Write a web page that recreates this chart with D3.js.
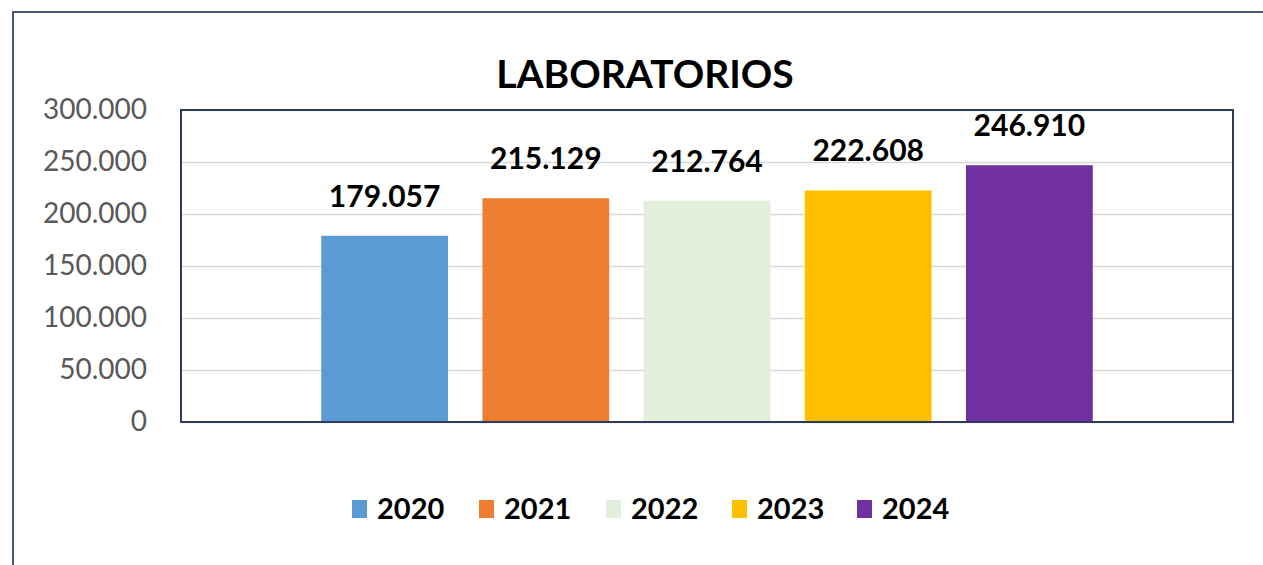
<!DOCTYPE html>
<html>
<head>
<meta charset="utf-8">
<script src="https://cdn.jsdelivr.net/npm/d3@7"></script>
<style>
  body { margin: 0; background: #ffffff; }
  svg { display: block; font-family: Lato, "Open Sans", sans-serif; }
</style>
</head>
<body>
<script>
// Datos
var years = ["2020", "2021", "2022", "2023", "2024"];
var values = [179057, 215129, 212764, 222608, 246910];
var colors = ["#5B9BD5", "#ED7D31", "#E2EFDA", "#FFC000", "#7030A0"];
var yTicks = [0, 50000, 100000, 150000, 200000, 250000, 300000];
var title = "LABORATORIOS";

var width = 1263, height = 565;
var plot = {left: 181, top: 110, right: 1233, bottom: 422};

var svg = d3.select("body").append("svg")
    .attr("width", width)
    .attr("height", height);

// Marco exterior
svg.append("rect")
    .attr("x", 13).attr("y", 12)
    .attr("width", width).attr("height", height)
    .attr("fill", "#ffffff")
    .attr("stroke", "#4A5878")
    .attr("stroke-width", 2);

var es = d3.formatLocale({decimal: ",", thousands: ".", grouping: [3], currency: ["", ""]});
var fmt = es.format(",d");

// Escalas
var y = d3.scaleLinear()
    .domain([0, 300000])
    .range([plot.bottom, plot.top]);

var x = d3.scaleBand()
    .domain(years)
    .range([plot.left, plot.right])
    .paddingInner(0.2136)
    .paddingOuter(0.87);

// Líneas de cuadrícula
svg.append("g")
    .attr("transform", "translate(" + plot.left + ",0)")
    .call(d3.axisLeft(y).tickValues(yTicks).tickSize(-(plot.right - plot.left)).tickFormat(""))
    .call(g => g.select(".domain").remove())
    .call(g => g.selectAll("line").attr("stroke", "#D9D9D9").attr("stroke-width", 1.5));

// Eje Y
svg.append("g")
    .attr("transform", "translate(" + (plot.left - 34) + ",0)")
    .call(d3.axisLeft(y).tickValues(yTicks).tickSize(0).tickPadding(0).tickFormat(fmt))
    .call(g => g.select(".domain").remove())
    .call(g => g.selectAll("text")
        .attr("fill", "#595959")
        .attr("font-size", "28px")
        .attr("font-family", "Lato, sans-serif"));

// Barras
svg.selectAll(".bar")
  .data(years)
  .enter().append("rect")
    .attr("class", "bar")
    .attr("x", d => x(d))
    .attr("y", (d, i) => y(values[i]))
    .attr("width", x.bandwidth())
    .attr("height", (d, i) => y(0) - y(values[i]))
    .attr("fill", (d, i) => colors[i]);

// Borde del área de trazado
svg.append("rect")
    .attr("x", plot.left).attr("y", plot.top)
    .attr("width", plot.right - plot.left)
    .attr("height", plot.bottom - plot.top)
    .attr("fill", "none")
    .attr("stroke", "#2E3A5E")
    .attr("stroke-width", 2);

// Etiquetas
svg.selectAll(".label")
  .data(years)
  .enter().append("text")
    .attr("class", "label")
    .attr("x", d => x(d) + x.bandwidth() / 2)
    .attr("y", (d, i) => y(values[i]) - 29)
    .attr("text-anchor", "middle")
    .attr("font-size", "30px")
    .attr("font-weight", "bold")
    .attr("fill", "#000000")
    .text((d, i) => fmt(values[i]));

// Título
svg.append("text")
    .attr("x", 645).attr("y", 88)
    .attr("text-anchor", "middle")
    .attr("font-size", "39px")
    .attr("font-weight", "bold")
    .attr("fill", "#000000")
    .text(title);

// Leyenda
var legendX = [352, 479, 606, 732, 857];
var legend = svg.selectAll(".legend")
  .data(years)
  .enter().append("g")
    .attr("class", "legend")
    .attr("transform", (d, i) => "translate(" + legendX[i] + ",500)");

legend.append("rect")
    .attr("width", 15).attr("height", 18)
    .attr("fill", (d, i) => colors[i]);

legend.append("text")
    .attr("x", 25).attr("y", 19)
    .attr("font-size", "29px")
    .attr("font-weight", "bold")
    .attr("fill", "#000000")
    .text(d => d);
</script>
</body>
</html>
